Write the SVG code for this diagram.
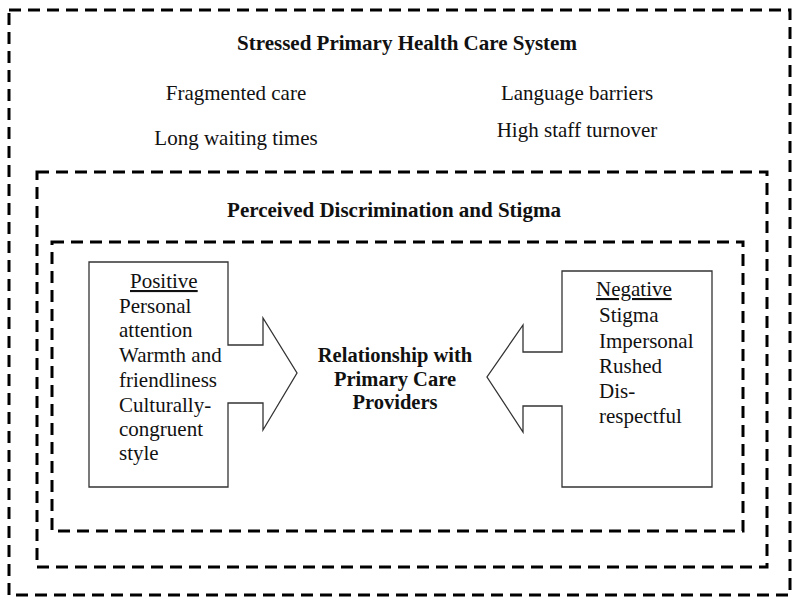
<svg xmlns="http://www.w3.org/2000/svg" width="800" height="605" viewBox="0 0 800 605">
<style>
.dash{fill:none;stroke:#000;stroke-width:3;stroke-dasharray:12 7}
.shape{fill:#fff;stroke:#333;stroke-width:1.3}
text{font-family:"Liberation Serif","Times New Roman",serif;font-size:21px;fill:#111}
.b{font-weight:bold}
.c{text-anchor:middle}
.s{font-size:20.5px}
</style>
<rect width="800" height="605" fill="#fff"/>
<g id="outer">
<rect class="dash" x="9" y="10" width="781" height="585"/>
<text class="b c" x="407" y="50">Stressed Primary Health Care System</text>
<text class="c" x="236" y="100">Fragmented care</text>
<text class="c" x="236" y="145">Long waiting times</text>
<text class="c" x="577" y="100">Language barriers</text>
<text class="c" x="577" y="137">High staff turnover</text>
</g>
<g id="middle">
<rect class="dash" x="37" y="172" width="730" height="395"/>
<text class="b c" x="394" y="217">Perceived Discrimination and Stigma</text>
</g>
<g id="inner">
<rect class="dash" x="52" y="242" width="691" height="289"/>
</g>
<g id="connectors">
<path id="positive-arrow" class="shape" d="M89,262 H228 V345 H263 V318 L297,373 L263,430 V403 H228 V487 H89 Z"/>
<path id="negative-arrow" class="shape" d="M562,271 H712 V487 H562 V406 H523 V432 L487,377 L523,325 V352 H562 Z"/>
</g>
<g id="positive">
<text x="130" y="288" text-decoration="underline">Positive</text>
<text x="119" y="313">Personal</text>
<text x="119" y="337">attention</text>
<text x="119" y="362">Warmth and</text>
<text x="119" y="387">friendliness</text>
<text x="119" y="412">Culturally-</text>
<text x="119" y="436">congruent</text>
<text x="119" y="460">style</text>
</g>
<g id="negative">
<text x="596" y="296" text-decoration="underline">Negative</text>
<text x="599" y="322">Stigma</text>
<text x="599" y="348">Impersonal</text>
<text x="599" y="373">Rushed</text>
<text x="599" y="398">Dis-</text>
<text x="599" y="423">respectful</text>
</g>
<g id="relationship">
<text class="b c s" x="395" y="362">Relationship with</text>
<text class="b c s" x="395" y="386">Primary Care</text>
<text class="b c s" x="395" y="409">Providers</text>
</g>
</svg>
